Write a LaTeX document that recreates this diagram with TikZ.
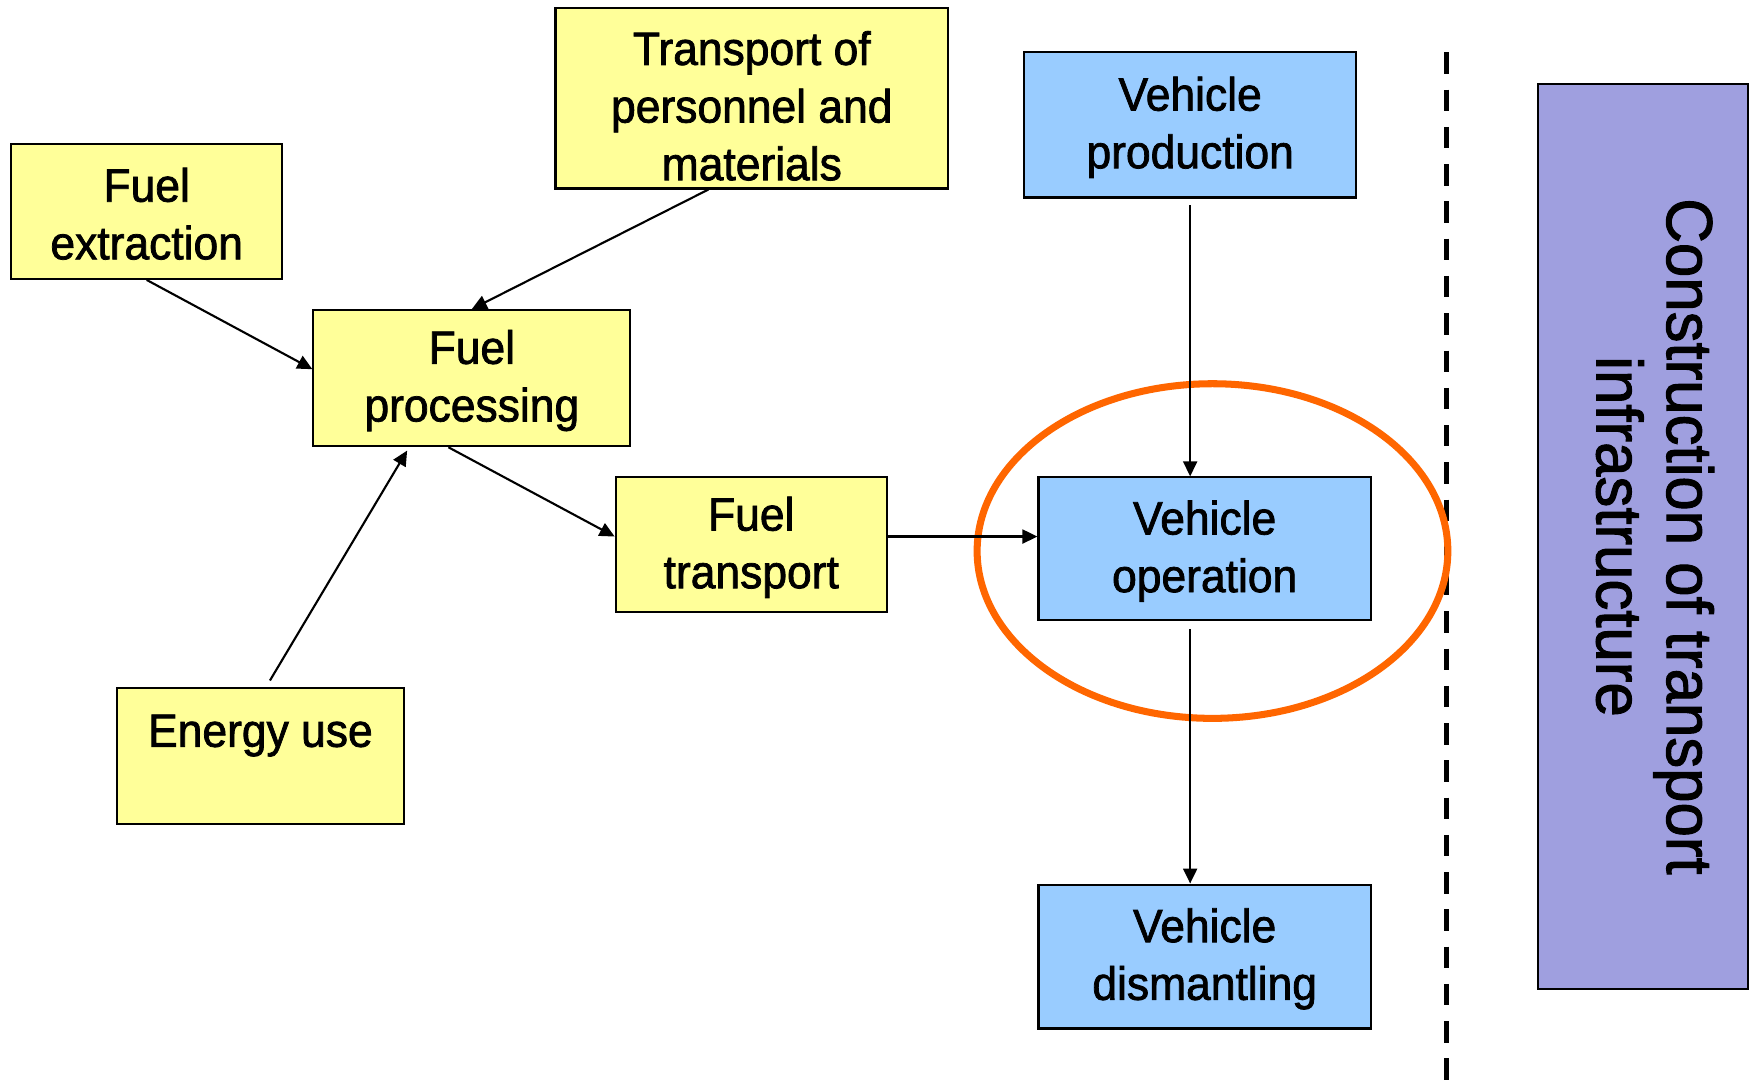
\documentclass[tikz,border=0pt]{standalone}
\usepackage{fontspec}
\setmainfont{Liberation Sans}[FakeBold=1.6, FakeStretch=0.95]
\usetikzlibrary{arrows.meta,calc,shapes.geometric}
\definecolor{boxyellow}{HTML}{FFFF99}
\definecolor{boxblue}{HTML}{99CCFF}
\definecolor{boxpurple}{HTML}{9F9FDF}
\definecolor{ringorange}{HTML}{FF6600}
\begin{document}
\begin{tikzpicture}[x=0.11154mm, y=-0.11154mm,
  box/.style 2 args={draw=black, line width=0.6pt, minimum width=#1*0.11154mm,
    minimum height=#2*0.11154mm, inner sep=0pt, align=center,
    font=\fontsize{13.3}{16.4}\selectfont},
  fuelbox/.style 2 args={box={#1}{#2}, fill=boxyellow},
  vehbox/.style 2 args={box={#1}{#2}, fill=boxblue},
  conn/.style={line width=0.6pt, -{Triangle[length=1.5mm,width=1.4mm]}}]
\useasboundingbox (0,0) rectangle (1568,969);
\fill[white] (0,0) rectangle (1568,969);

% dashed separator
\coordinate (dtop) at (1297,47);
\coordinate (dbot) at (1297,975);
\draw[line width=1.5pt, dash pattern=on 6.1pt off 4.5pt] (dtop) -- (dbot);

% orange ring
\node[ellipse, draw=ringorange, line width=2pt, minimum width=422*0.11154mm,
  minimum height=300*0.11154mm, inner sep=0pt] (ring) at (1087,494) {};

% fuel chain
\node[fuelbox={243}{121}] (fext) at (131.5,189.5) {\rule{0pt}{11pt}Fuel\\extraction};
\node[fuelbox={352}{162}] (tpm) at (674,88) {\rule{0pt}{14pt}Transport of\\personnel and\\materials};
\node[fuelbox={284}{122}] (fproc) at (423,339) {\rule{0pt}{11pt}Fuel\\processing};
\node[fuelbox={243}{121}] (ftrans) at (673.5,488.5) {\rule{0pt}{11pt}Fuel\\transport};
\node[fuelbox={257}{122}] (energy) at (233.5,678) {\rule{0pt}{11pt}Energy use\\\mbox{}};

% vehicle chain
\node[vehbox={298}{130}] (vprod) at (1067,112) {\rule{0pt}{11pt}Vehicle\\production};
\node[vehbox={298}{128}] (vop) at (1080,492) {\rule{0pt}{11pt}Vehicle\\operation};
\node[vehbox={298}{129}] (vdis) at (1080,857.5) {\rule{0pt}{11pt}Vehicle\\dismantling};

% infrastructure
\node[draw=black, line width=0.6pt, fill=boxpurple, rotate=-90,
  minimum width=812*0.11154mm, minimum height=188*0.11154mm, inner sep=0pt,
  align=center, font=\fontsize{18.5}{20}\selectfont] (constr) at (1473,481)
  {Construction of transport\\infrastructure\rule[-7pt]{0pt}{0pt}};

% connectors
\draw[conn] (fext.south) -- ($(fproc.west)+(0,-8)$);
\draw[conn] ($(tpm.south)+(-39,0)$) -- (fproc.north);
\draw[conn] ($(fproc.south)+(-21,0)$) -- ($(ftrans.west)+(0,-7.5)$);
\draw[conn] ($(energy.north)+(8.5,-6)$) -- ($(fproc.south)+(-58,3)$);
\draw[conn] ($(ftrans.east)+(0,-7.5)$) -- ($(vop.west)+(0,-11)$);
\draw[conn] ($(vprod.south)+(0,6)$) -- ($(vop.north)+(-13,0)$);
\draw[conn] ($(vop.south)+(-13,7)$) -- ($(vdis.north)+(-13,0)$);
\end{tikzpicture}
\end{document}
